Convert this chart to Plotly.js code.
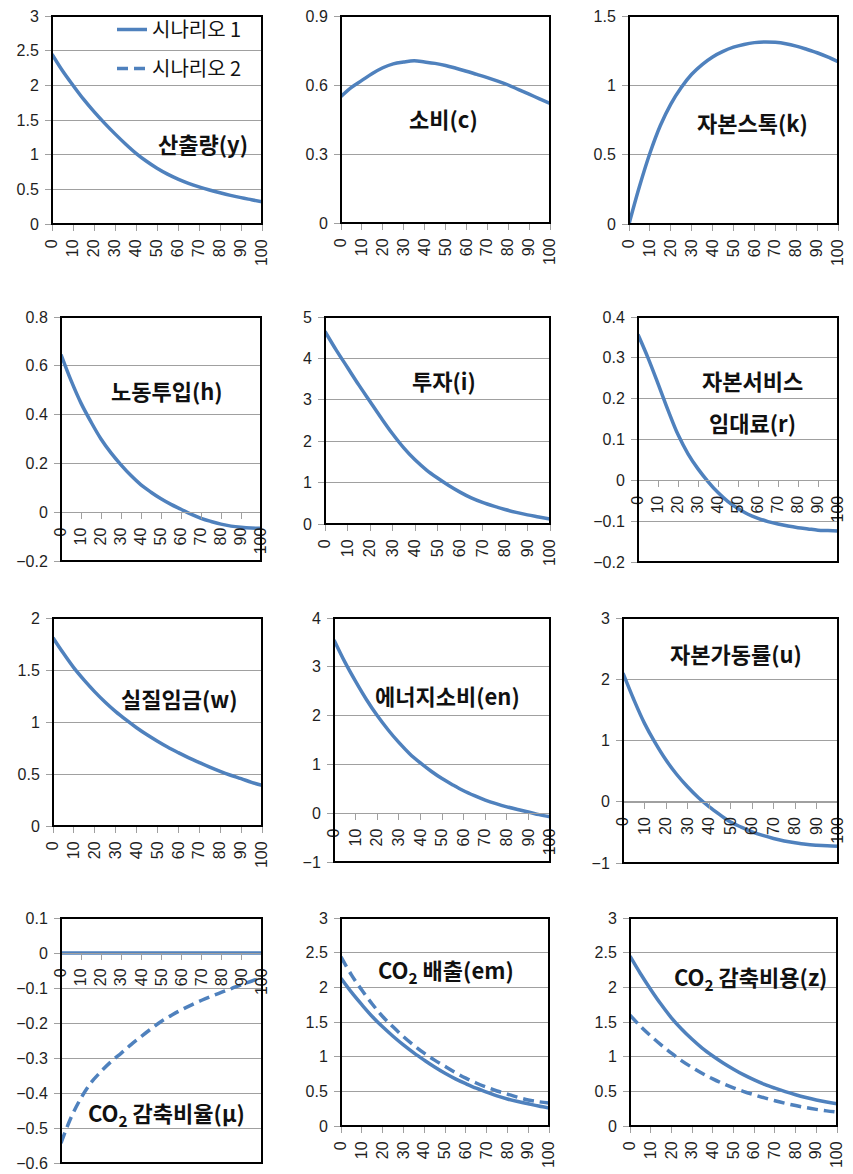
<!DOCTYPE html>
<html>
<head>
<meta charset="utf-8">
<script src="https://cdn.plot.ly/plotly-3.0.1.min.js"></script>
<style>html,body{margin:0;padding:0;background:#fff;}#chart{width:853px;height:1174px;}</style>
</head>
<body>
<div id="chart"></div>
<script>
// ---- data ----
const periods = [0,5,10,15,20,25,30,35,40,45,50,55,60,65,70,75,80,85,90,95,100];
const xTickVals = [0,10,20,30,40,50,60,70,80,90,100];
const xTickLabels = ['0','10','20','30','40','50','60','70','80','90','100'];
const seriesNames = ['시나리오 1', '시나리오 2'];

const y_s1  = [2.45, 2.21, 2.0, 1.80, 1.62, 1.455, 1.30, 1.155, 1.02, 0.905, 0.805, 0.72, 0.648, 0.587, 0.535, 0.49, 0.45, 0.413, 0.38, 0.35, 0.32];
const c_s1  = [0.55, 0.59, 0.62, 0.65, 0.675, 0.692, 0.70, 0.705, 0.70, 0.694, 0.685, 0.673, 0.66, 0.646, 0.632, 0.617, 0.60, 0.58, 0.56, 0.54, 0.52];
const k_s1  = [0, 0.27, 0.51, 0.71, 0.865, 0.985, 1.08, 1.15, 1.205, 1.245, 1.275, 1.295, 1.308, 1.313, 1.31, 1.30, 1.283, 1.26, 1.235, 1.205, 1.17];
const h_s1  = [0.646, 0.54, 0.447, 0.37, 0.30, 0.243, 0.194, 0.15, 0.112, 0.082, 0.055, 0.032, 0.012, -0.008, -0.025, -0.038, -0.049, -0.057, -0.062, -0.065, -0.066];
const i_s1  = [4.65, 4.2, 3.78, 3.36, 2.96, 2.56, 2.18, 1.84, 1.55, 1.31, 1.11, 0.93, 0.77, 0.63, 0.52, 0.43, 0.35, 0.28, 0.22, 0.17, 0.12];
const r_s1  = [0.357, 0.30, 0.237, 0.172, 0.112, 0.065, 0.028, -0.003, -0.030, -0.052, -0.069, -0.083, -0.093, -0.101, -0.107, -0.112, -0.116, -0.119, -0.122, -0.123, -0.124];
const w_s1  = [1.81, 1.66, 1.52, 1.40, 1.29, 1.19, 1.10, 1.02, 0.945, 0.877, 0.815, 0.757, 0.705, 0.655, 0.61, 0.566, 0.525, 0.488, 0.455, 0.42, 0.39];
const en_s1 = [3.55, 3.1, 2.7, 2.33, 2.0, 1.71, 1.45, 1.22, 1.03, 0.86, 0.71, 0.58, 0.46, 0.36, 0.27, 0.195, 0.13, 0.075, 0.025, -0.03, -0.075];
const u_s1  = [2.10, 1.67, 1.28, 0.96, 0.68, 0.445, 0.245, 0.07, -0.08, -0.21, -0.33, -0.415, -0.49, -0.55, -0.60, -0.64, -0.67, -0.695, -0.71, -0.72, -0.725];
const mu_s1 = [0, 0, 0, 0, 0, 0, 0, 0, 0, 0, 0, 0, 0, 0, 0, 0, 0, 0, 0, 0, 0];
const mu_s2 = [-0.543, -0.47, -0.414, -0.37, -0.338, -0.31, -0.286, -0.261, -0.238, -0.216, -0.195, -0.178, -0.162, -0.148, -0.135, -0.123, -0.112, -0.101, -0.090, -0.08, -0.071];
const em_s1 = [2.13, 1.93, 1.75, 1.58, 1.43, 1.295, 1.17, 1.055, 0.95, 0.85, 0.76, 0.68, 0.61, 0.545, 0.49, 0.435, 0.39, 0.353, 0.32, 0.288, 0.26];
const em_s2 = [2.44, 2.18, 1.96, 1.76, 1.58, 1.43, 1.29, 1.165, 1.05, 0.95, 0.86, 0.77, 0.69, 0.62, 0.56, 0.505, 0.46, 0.415, 0.375, 0.35, 0.33];
const z_s1  = [2.45, 2.2, 1.97, 1.755, 1.56, 1.395, 1.25, 1.12, 1.01, 0.91, 0.82, 0.737, 0.665, 0.6, 0.545, 0.495, 0.45, 0.41, 0.375, 0.345, 0.32];
const z_s2  = [1.60, 1.44, 1.30, 1.17, 1.05, 0.94, 0.845, 0.757, 0.68, 0.61, 0.55, 0.497, 0.45, 0.405, 0.365, 0.328, 0.295, 0.265, 0.24, 0.218, 0.20];

const panelTitles = ['산출량(y)', '소비(c)', '자본스톡(k)', '노동투입(h)', '투자(i)',
  ['자본서비스', '임대료(r)'], '실질임금(w)', '에너지소비(en)', '자본가동률(u)',
  'CO<sub>2</sub> 감축비율(μ)', 'CO<sub>2</sub> 배출(em)', 'CO<sub>2</sub> 감축비용(z)'];

// ---- layout / styling ----
const W = 853, H = 1174;
const BLUE = '#4F81BD';
const GRID = '#a0a0a0';
const TICKFONT = {family: 'Liberation Sans, Arial, sans-serif', size: 16, color: '#1f1f1f'};
const TITLEFONT = {family: 'Noto Sans CJK KR, sans-serif', size: 22, color: '#111', weight: 'bold'};

// panel boxes in pixels: left, right, top, bottom ; y range; dtick; series; title centres
const panels = [
  {box:[52,262,16,224],  range:[0,3],     dtick:0.5, s1:y_s1,  s2:null,  t:[[203,143]]},
  {box:[341,550,16,223], range:[0,0.9],   dtick:0.3, s1:c_s1,  s2:null,  t:[[443,118]]},
  {box:[629,838,16,224], range:[0,1.5],   dtick:0.5, s1:k_s1,  s2:null,  t:[[752,122]]},
  {box:[61,261,317,561], range:[-0.2,0.8],dtick:0.2, s1:h_s1,  s2:null,  t:[[167,390]]},
  {box:[325,550,317,524],range:[0,5],     dtick:1,   s1:i_s1,  s2:null,  t:[[444,380]]},
  {box:[638,838,317,562],range:[-0.2,0.4],dtick:0.1, s1:r_s1,  s2:null,  t:[[752,380],[752,422]]},
  {box:[53,262,618,826], range:[0,2],     dtick:0.5, s1:w_s1,  s2:null,  t:[[179,698]]},
  {box:[334,550,618,862],range:[-1,4],    dtick:1,   s1:en_s1, s2:null,  t:[[447,695]]},
  {box:[623,838,618,863],range:[-1,3],    dtick:1,   s1:u_s1,  s2:null,  t:[[736,653]]},
  {box:[61,262,918,1163],range:[-0.6,0.1],dtick:0.1, s1:mu_s1, s2:mu_s2, t:[[166,1113]]},
  {box:[341,549,918,1126],range:[0,3],    dtick:0.5, s1:em_s1, s2:em_s2, t:[[446,970]]},
  {box:[630,837,918,1126],range:[0,3],    dtick:0.5, s1:z_s1,  s2:z_s2,  t:[[750,977]]}
];

const traces = [];
const layout = {
  width: W, height: H,
  margin: {l:0, r:0, t:0, b:0},
  paper_bgcolor: '#fff', plot_bgcolor: '#fff',
  showlegend: true,
  legend: {
    x: 112 / W, y: 1 - 10 / H, xanchor: 'left', yanchor: 'top',
    bgcolor: 'rgba(0,0,0,0)', borderwidth: 0,
    font: {family: 'Noto Sans CJK KR, sans-serif', size: 20, color: '#111'},
    tracegroupgap: 10, itemwidth: 30
  },
  shapes: [], annotations: []
};

panels.forEach((p, idx) => {
  const n = idx + 1;
  const xa = 'xaxis' + (n === 1 ? '' : n), ya = 'yaxis' + (n === 1 ? '' : n);
  const xr = 'x' + (n === 1 ? '' : n), yr = 'y' + (n === 1 ? '' : n);
  const [l, r, t, b] = p.box;
  const yd = [1 - b / H, 1 - t / H];
  const zeroPos = yd[0] + (0 - p.range[0]) / (p.range[1] - p.range[0]) * (yd[1] - yd[0]);
  layout[xa] = {
    domain: [l / W, r / W], range: [0, 100], anchor: 'free', position: zeroPos,
    tickmode: 'array', tickvals: xTickVals, ticktext: xTickLabels, tickangle: -90,
    ticks: 'outside', ticklen: 6, tickcolor: GRID, tickwidth: 1,
    showline: true, linecolor: GRID, linewidth: 1,
    showgrid: false, zeroline: false, tickfont: TICKFONT, fixedrange: true,
    ticklabelstandoff: 2
  };
  layout[ya] = {
    domain: yd, range: p.range, anchor: xr, dtick: p.dtick, tick0: 0,
    ticks: 'outside', ticklen: 6, tickcolor: GRID, tickwidth: 1,
    showline: false, showgrid: true, gridcolor: GRID, gridwidth: 1,
    zeroline: false, tickfont: TICKFONT, fixedrange: true, ticklabelstandoff: 3
  };
  const legendOn = (n === 11);
  if (p.s2) {
    traces.push({x: periods, y: p.s2, xaxis: xr, yaxis: yr, mode: 'lines', type: 'scatter',
      name: seriesNames[1], legendgroup: 'g2', legendrank: 2, showlegend: legendOn,
      line: {color: BLUE, width: 3.5, dash: '11px,6px', shape: 'spline', smoothing: 1},
      hoverinfo: 'skip'});
  }
  traces.push({x: periods, y: p.s1, xaxis: xr, yaxis: yr, mode: 'lines', type: 'scatter',
    name: seriesNames[0], legendgroup: 'g1', legendrank: 1, showlegend: legendOn,
    line: {color: BLUE, width: 3.5, shape: 'spline', smoothing: 1},
    hoverinfo: 'skip'});
  layout.shapes.push({type: 'rect', xref: xr + ' domain', yref: yr + ' domain',
    x0: 0, x1: 1, y0: 0, y1: 1, line: {color: '#000', width: 2}, layer: 'above'});
  const titles = Array.isArray(panelTitles[idx]) ? panelTitles[idx] : [panelTitles[idx]];
  titles.forEach((txt, j) => {
    const [cx, cy] = p.t[j];
    layout.annotations.push({xref: 'paper', yref: 'paper', x: cx / W, y: 1 - cy / H,
      xanchor: 'center', yanchor: 'middle', text: txt, showarrow: false, font: TITLEFONT});
  });
});

Plotly.newPlot('chart', traces, layout, {displayModeBar: false, staticPlot: true});
</script>
</body>
</html>
